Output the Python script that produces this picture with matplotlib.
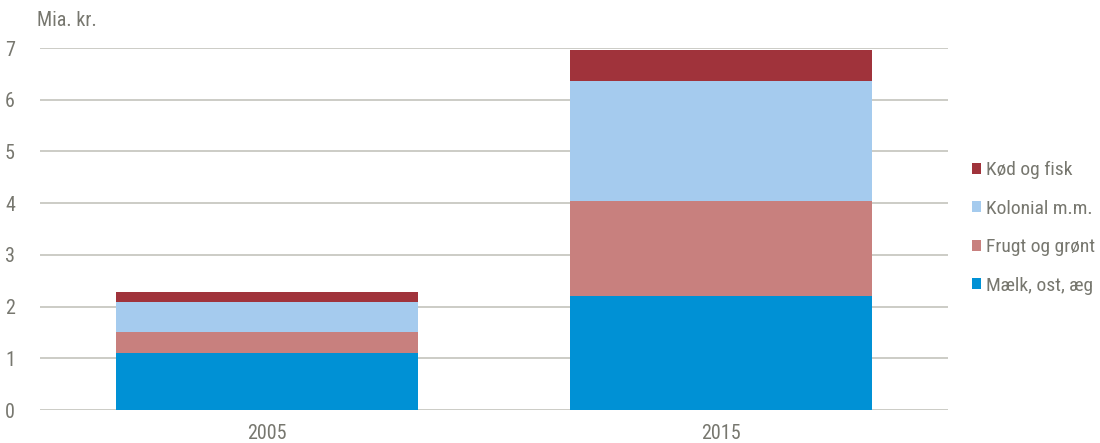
import matplotlib
matplotlib.use("Agg")
import matplotlib.pyplot as plt
from matplotlib.patches import Patch
from matplotlib import font_manager

years = ["2005", "2015"]
series_names = ["Mælk, ost, æg", "Frugt og grønt", "Kolonial m.m.", "Kød og fisk"]
maelk = [1.11, 2.21]
frugt = [0.40, 1.83]
kolonial = [0.58, 2.33]
koed = [0.20, 0.59]
colors = ["#0091d5", "#c8807e", "#a5cbee", "#a0333b"]
yticks = [0, 1, 2, 3, 4, 5, 6, 7]

names = {f.name for f in font_manager.fontManager.ttflist}
fams = [n for n in ['Liberation Sans Narrow', 'Roboto Condensed', 'Open Sans Condensed'] if n in names]
plt.rcParams['font.family'] = fams + ['Liberation Sans', 'DejaVu Sans']
txt = "#77776f"
fs = 14.5

fig = plt.figure(figsize=(11, 4.43), dpi=100)
ax = fig.add_axes([40/1100, 1-410/443, 908/1100, (410-48)/443])

x = list(range(len(years)))
bottom = [0.0, 0.0]
for vals, c in zip([maelk, frugt, kolonial, koed], colors):
    ax.bar(x, vals, width=0.665, bottom=bottom, color=c, zorder=3, linewidth=0)
    bottom = [b + v for b, v in zip(bottom, vals)]

ax.set_xlim(-0.5, 1.5)
ax.set_ylim(0, 7)
ax.set_yticks(yticks)
ax.set_xticks(x)
ax.set_xticklabels(years)
ax.grid(axis='y', color="#c4c4bc", linewidth=1.2, zorder=0)
for s in ax.spines.values():
    s.set_visible(False)
ax.tick_params(axis='both', length=0, labelsize=fs, labelcolor=txt)
ax.tick_params(axis='y', pad=18)
ax.tick_params(axis='x', pad=10)

fig.text(37/1100, 1-21/443, "Mia. kr.", fontsize=fs, color=txt, va='center', ha='left')

handles = [Patch(facecolor=c, edgecolor='none') for c in colors[::-1]]
leg = fig.legend(handles, series_names[::-1], loc='center left',
                 bbox_to_anchor=(956/1100, 1-228/443), frameon=False,
                 fontsize=14, labelcolor=txt,
                 handlelength=0.5, handleheight=0.5,
                 handletextpad=0.25, labelspacing=1.05, borderpad=0.3)

fig.savefig("out.png", dpi=100)
